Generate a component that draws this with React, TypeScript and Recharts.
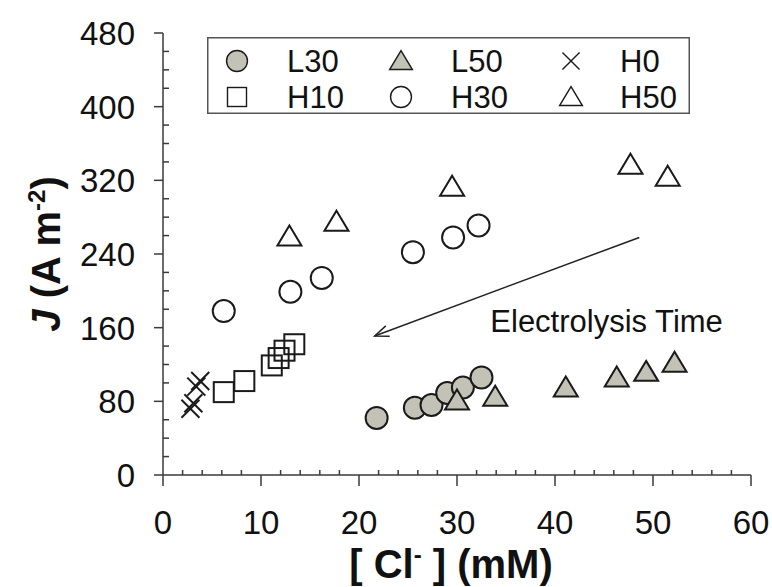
import React from 'react';
import { ScatterChart, Scatter, XAxis, YAxis, ReferenceLine, ReferenceDot, Legend } from 'recharts';

// ---- data ----
const L30_x = [21.8, 25.7, 27.4, 29.0, 30.6, 32.5];
const L30_y = [62, 73, 76, 89, 95, 106];
const L50_x = [30.0, 33.9, 41.1, 46.3, 49.3, 52.2];
const L50_y = [81, 85, 95, 106, 112, 122];
const H0_x = [2.8, 3.1, 3.4, 3.8];
const H0_y = [72, 78, 96, 102];
const H10_x = [6.2, 8.3, 11.1, 11.8, 12.4, 13.4];
const H10_y = [90, 102, 119, 127, 135, 142];
const H30_x = [6.2, 13.0, 16.2, 25.5, 29.6, 32.2];
const H30_y = [178, 199, 214, 242, 258, 271];
const H50_x = [12.9, 17.7, 29.5, 47.7, 51.5];
const H50_y = [259, 275, 313, 337, 324];

const X_TICKS = [0, 2, 4, 6, 8, 10, 12, 14, 16, 18, 20, 22, 24, 26, 28, 30, 32, 34, 36, 38, 40, 42, 44, 46, 48, 50, 52, 54, 56, 58, 60];
const Y_TICKS = [0, 20, 40, 60, 80, 100, 120, 140, 160, 180, 200, 220, 240, 260, 280, 300, 320, 340, 360, 380, 400, 420, 440, 460, 480];
const X_MAJOR = 10;
const Y_MAJOR = 80;

const ARROW_FROM = { x: 48.6, y: 258 };
const ARROW_TO = { x: 21.6, y: 151 };
const NOTE = { x: 33.4, y: 155, text: 'Electrolysis Time' };

const LEGEND_ROWS = [
  ['L30', 'L50', 'H0'],
  ['H10', 'H30', 'H50'],
];

const zip = (xs: number[], ys: number[]) => xs.map((x, i) => ({ x, y: ys[i] }));

const FONT = '"Liberation Sans", Arial, Helvetica, sans-serif';
const AX = '#3a3a3a';
const MK = '#1a1a1a';
const GRAY = '#c2c2b6';
const TICK_FS = 33;
const TITLE_FS = 40;

type Kind = 'circle' | 'triangle' | 'square' | 'cross';

const drawMarker = (kind: Kind, cx: number, cy: number, fill: string, sw: number, s = 1) => {
  if (kind === 'circle') return <circle cx={cx} cy={cy} r={11 * s} fill={fill} stroke={MK} strokeWidth={sw} />;
  if (kind === 'triangle')
    return (
      <polygon
        points={`${cx},${cy - 11 * s} ${cx + 12 * s},${cy + 9 * s} ${cx - 12 * s},${cy + 9 * s}`}
        fill={fill}
        stroke={MK}
        strokeWidth={sw}
        strokeLinejoin="miter"
      />
    );
  if (kind === 'square')
    return <rect x={cx - 10 * s} y={cy - 10 * s} width={20 * s} height={20 * s} fill={fill} stroke={MK} strokeWidth={sw} />;
  const d = 9 * s;
  return (
    <g stroke={MK} strokeWidth={sw}>
      <line x1={cx - d} y1={cy - d} x2={cx + d} y2={cy + d} />
      <line x1={cx - d} y1={cy + d} x2={cx + d} y2={cy - d} />
    </g>
  );
};

const SERIES: { name: string; data: { x: number; y: number }[]; kind: Kind; fill: string }[] = [
  { name: 'L30', data: zip(L30_x, L30_y), kind: 'circle', fill: GRAY },
  { name: 'L50', data: zip(L50_x, L50_y), kind: 'triangle', fill: GRAY },
  { name: 'H0', data: zip(H0_x, H0_y), kind: 'cross', fill: 'none' },
  { name: 'H10', data: zip(H10_x, H10_y), kind: 'square', fill: 'none' },
  { name: 'H30', data: zip(H30_x, H30_y), kind: 'circle', fill: 'none' },
  { name: 'H50', data: zip(H50_x, H50_y), kind: 'triangle', fill: 'none' },
];

const XTick = (p: any) => {
  const { x, y, payload } = p;
  const v = payload.value;
  if (v % X_MAJOR === 0)
    return (
      <g>
        <line x1={x} y1={y} x2={x} y2={y + 11} stroke={AX} strokeWidth={1.5} />
        <text x={x} y={y + 59} textAnchor="middle" fontSize={TICK_FS} fill="#111" fontFamily={FONT}>
          {v}
        </text>
      </g>
    );
  return <line x1={x} y1={y} x2={x} y2={y - 5} stroke={AX} strokeWidth={1.5} />;
};

const YTick = (p: any) => {
  const { x, y, payload } = p;
  const v = payload.value;
  if (v % Y_MAJOR === 0)
    return (
      <g>
        <line x1={x} y1={y} x2={x - 9} y2={y} stroke={AX} strokeWidth={1.5} />
        <text x={x - 28} y={y} dy="0.36em" textAnchor="end" fontSize={TICK_FS} fill="#111" fontFamily={FONT}>
          {v}
        </text>
      </g>
    );
  return <line x1={x} y1={y} x2={x + 6} y2={y} stroke={AX} strokeWidth={1.5} />;
};

const YTitle = (p: any) => {
  const vb = p.viewBox || { x: 0, y: 33, width: 163, height: 442 };
  const cx = vb.x + 60;
  const cy = vb.y + vb.height / 2;
  return (
    <text
      x={cx}
      y={cy}
      transform={`rotate(-90 ${cx} ${cy})`}
      textAnchor="middle"
      fontSize={TITLE_FS}
      fontWeight="bold"
      fill="#111"
      fontFamily={FONT}
    >
      <tspan fontStyle="italic">J</tspan>
      <tspan> (A m</tspan>
      <tspan fontSize={24} dy={-15}>-2</tspan>
      <tspan dy={15}>)</tspan>
    </text>
  );
};

const XTitle = (p: any) => {
  const vb = p.viewBox || { x: 163, y: 475, width: 588, height: 112 };
  const cx = vb.x + vb.width / 2 - 6;
  const cy = vb.y + 103;
  return (
    <text x={cx} y={cy} textAnchor="middle" fontSize={TITLE_FS} fontWeight="bold" fill="#111" fontFamily={FONT}>
      <tspan>[ Cl</tspan>
      <tspan fontSize={24} dy={-15}>-</tspan>
      <tspan dy={15}> ] (mM)</tspan>
    </text>
  );
};

const ArrowShape = (p: any) => {
  const { x1, y1, x2, y2 } = p;
  const a = Math.atan2(y1 - y2, x1 - x2);
  const L = 15;
  const w = 0.38;
  return (
    <g stroke="#222" strokeWidth={1.5} fill="none">
      <line x1={x1} y1={y1} x2={x2} y2={y2} />
      <polyline
        points={`${x2 + L * Math.cos(a + w)},${y2 + L * Math.sin(a + w)} ${x2},${y2} ${x2 + L * Math.cos(a - w)},${y2 + L * Math.sin(a - w)}`}
      />
    </g>
  );
};

const NoteShape = (p: any) => (
  <text x={p.cx} y={p.cy} fontSize={31} fill="#111" fontFamily={FONT}>
    {NOTE.text}
  </text>
);

const LEG_W = 483;
const LEG_H = 77;
const LegendBox = () => {
  const colMarker = [30, 194, 364];
  const colText = [80, 244, 413];
  const rowY = [24, 60];
  return (
    <svg width={LEG_W} height={LEG_H} style={{ display: 'block' }}>
      <rect x={0.75} y={0.75} width={LEG_W - 1.5} height={LEG_H - 1.5} fill="#fff" stroke="#555" strokeWidth={1.5} />
      {LEGEND_ROWS.map((row, r) =>
        row.map((name, c) => {
          const s = SERIES.find((q) => q.name === name)!;
          return (
            <g key={name}>
              {drawMarker(s.kind, colMarker[c], rowY[r], s.fill, 1.4, 0.95)}
              <text x={colText[c]} y={rowY[r]} dy="0.36em" fontSize={31} fill="#111" fontFamily={FONT}>
                {name}
              </text>
            </g>
          );
        })
      )}
    </svg>
  );
};

export default function App() {
  return (
    <div style={{ position: 'absolute', left: 0, top: 0, width: 772, height: 587, background: '#fff' }}>
      <ScatterChart width={772} height={587} margin={{ top: 33, right: 21, bottom: 0, left: 0 }}>
        <XAxis
          type="number"
          dataKey="x"
          domain={[0, 60]}
          ticks={X_TICKS}
          interval={0}
          allowDataOverflow
          height={112}
          tickSize={0}
          tickMargin={0}
          tickLine={false}
          axisLine={{ stroke: AX, strokeWidth: 1.5 }}
          tick={<XTick />}
          label={{ content: <XTitle /> }}
        />
        <YAxis
          type="number"
          dataKey="y"
          domain={[0, 480]}
          ticks={Y_TICKS}
          interval={0}
          allowDataOverflow
          width={163}
          tickSize={0}
          tickMargin={0}
          tickLine={false}
          axisLine={{ stroke: AX, strokeWidth: 1.5 }}
          tick={<YTick />}
          label={{ content: <YTitle /> }}
        />
        <ReferenceLine segment={[ARROW_FROM, ARROW_TO]} shape={ArrowShape} ifOverflow="visible" />
        <ReferenceDot x={NOTE.x} y={NOTE.y} r={0} shape={NoteShape} ifOverflow="visible" />
        {SERIES.map((s) => (
          <Scatter
            key={s.name}
            name={s.name}
            data={s.data}
            isAnimationActive={false}
            shape={(p: any) => drawMarker(s.kind, p.cx, p.cy, s.fill, 2)}
          />
        ))}
        <Legend
          verticalAlign="middle"
          align="center"
          layout="horizontal"
          width={LEG_W}
          height={LEG_H}
          wrapperStyle={{ left: 207, top: 37, width: LEG_W, height: LEG_H }}
          content={() => <LegendBox />}
        />
      </ScatterChart>
    </div>
  );
}
